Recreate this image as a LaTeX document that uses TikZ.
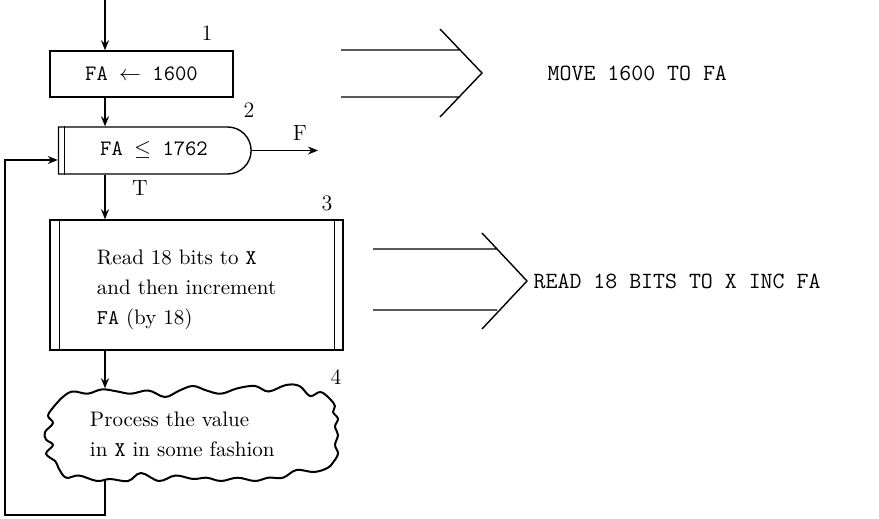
\documentclass[tikz,border=0pt]{standalone}
\usetikzlibrary{arrows.meta,shapes.misc,calc}
\begin{document}
\begin{tikzpicture}[x=0.5pt,y=-0.5pt,line width=0.7pt,
  >={Stealth[length=5pt,width=4pt]},
  every node/.style={font=\fontsize{10.5}{15}\selectfont},
  main/.style = {draw, minimum width=91.5pt, minimum height=23pt, font=\fontsize{11}{14}\selectfont\ttfamily},
  test/.style = {draw, rounded rectangle, rounded rectangle left arc=none, minimum width=103pt, minimum height=23.5pt, font=\fontsize{11}{14}\selectfont\ttfamily},
  io/.style = {draw, minimum width=146.5pt, minimum height=65pt, text width=99.5pt, text height=12.5pt, align=left},
  wavy/.style = {minimum width=148pt, minimum height=45pt, text width=101.5pt, align=left},
  num/.style = {font=\fontsize{11}{13}\selectfont},
  code/.style = {anchor=west, inner sep=0pt, font=\fontsize{11.6}{14}\selectfont\ttfamily}]
        \useasboundingbox (0,0) rectangle (879,519);
        \coordinate (in) at (105,0);
        \coordinate (loop) at (5,515);
        \coordinate (back) at (0,160);
        \coordinate (fout) at (318,150.5);
        \node[main] (b1) at (141.5,74) {FA $\leftarrow$ 1600};
        \node[test] (b2) at (154,150.5) {FA $\leq$ 1762};
        \node[io] (b3) at (196.5,285) {Read 18 bits to \texttt{X}\\and then increment\\\texttt{FA} (by 18)};
        \node[wavy] (b4) at (191.5,434) {Process the value\\in \texttt{X} in some fashion};
        \node[num] (l1) at (207,33) {1};
        \node[num] (l2) at (249,110) {2};
        \node[num] (l3) at (327,203) {3};
        \node[num] (l4) at (336,377) {4};
        \node[num] (t) at (140,188) {T};
        \node[num] (f) at (300,133) {F};
        %
        \draw ($(b2.west |- b2.north)+(7,0)$) -- ($(b2.west |- b2.south)+(7,0)$);
        \draw ($(b3.north west)+(10,0)$) -- ($(b3.south west)+(10,0)$);
        \draw ($(b3.north east)+(-9,0)$) -- ($(b3.south east)+(-9,0)$);
        % the cloud round block 4
        \draw[line width=1pt] plot[smooth cycle, tension=0.6] coordinates {
          (60.5,399) (72,391.5) (87.5,393.7) (102,389.4) (117.5,391.5) (131,393.7)
          (148.5,390.5) (165,397) (179.5,390.5) (193,386) (206.5,390.5) (221,393.7)
          (237.5,388.3) (255,386) (268.5,391.5) (286,385) (299.5,386) (310,396)
          (320.5,392) (330,399) (335,406)
          (333,412) (338,418.8) (335,426.5) (338,435) (335,445) (338,453.7)
          (333,462.5) (327.5,468)
          (314,472) (296.5,470) (283,477.7) (268.5,477.7) (255,481) (237.5,477.7)
          (221,481) (206.5,477.7) (193,479) (175.5,475.5) (159,481) (141,473)
          (128,481) (110,479) (97,481) (79,475.5) (66,477.7)
          (58.5,468) (55.5,461.5) (46,453.7) (53,445) (46,439.5) (45,432)
          (53,423) (48,415.5) (55.5,404.6)};
        %
        \draw[->] (in) -- (in |- b1.north);
        \draw[->] (in |- b1.south) -- (in |- b2.north);
        \draw[->] (in |- b2.south) -- (in |- b3.north);
        \draw[->] (in |- b3.south) -- (in |- b4.north);
        \draw[->] (in |- b4.south) -- (in |- loop) -- (loop) -- (loop |- back) -- (b2.west |- back);
        \draw[->] (b2.east) -- (fout);
        %
        \draw (341,50) -- (460,50) (341,97) -- (460,97) (440,29) -- (482,73) -- (440,117);
        \draw (373,249) -- (497,249) (373,310) -- (497,310) (482,233) -- (527,281) -- (482,329);
        \node[code] (m1) at (547,73) {MOVE 1600 TO FA};
        \node[code] (m2) at (533,281) {READ 18 BITS TO X INC FA};
      \end{tikzpicture}
\end{document}
